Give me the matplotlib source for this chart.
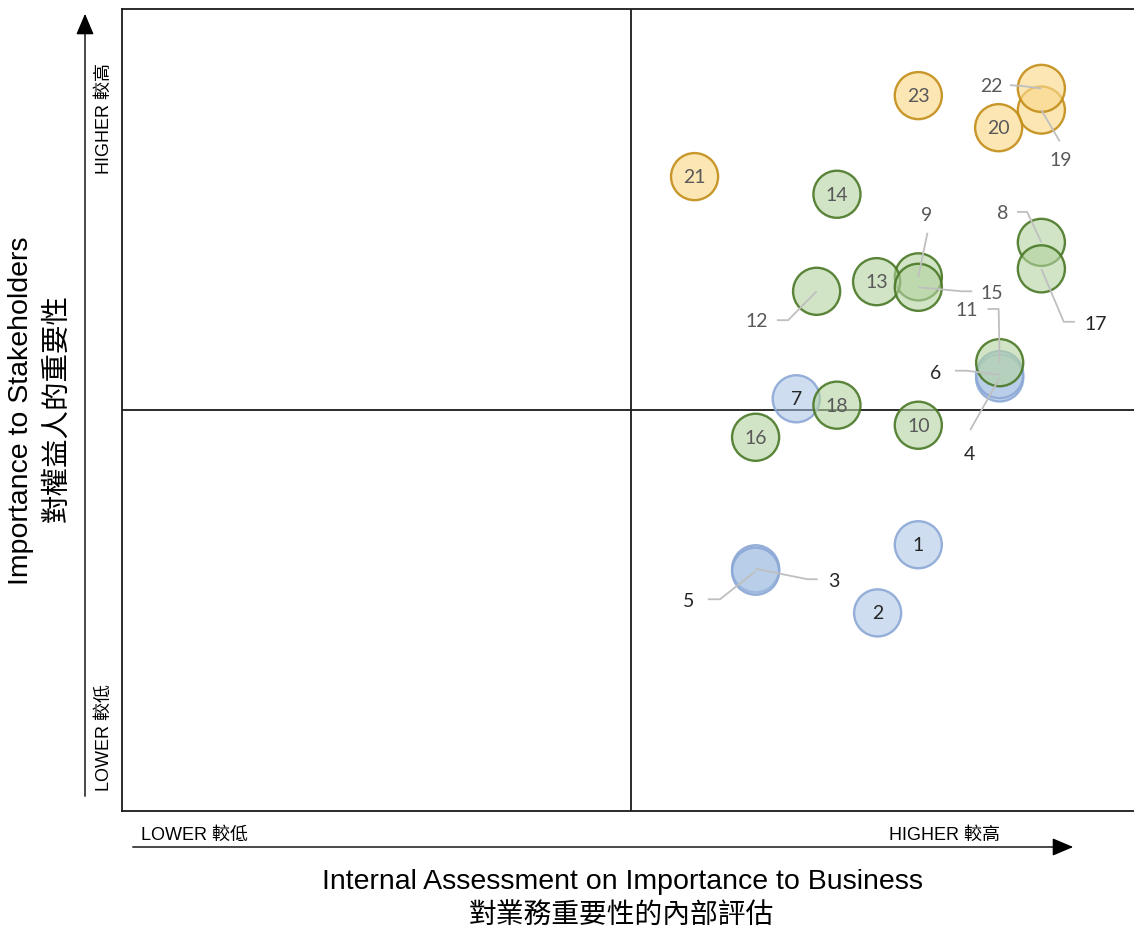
import matplotlib.pyplot as plt

plt.rcParams['font.family'] = ['Liberation Sans', 'Noto Sans CJK TC']

# --- datos: tema, posición (negocio, partes interesadas), grupo ---
ids = list(range(1, 24))
negocio = [7.83, 7.43, 6.23, 8.63, 6.23, 8.63, 6.63, 9.04, 7.83, 7.83, 8.63, 6.83,
           7.42, 7.03, 7.83, 6.23, 9.04, 7.03, 9.04, 8.62, 5.63, 9.04, 7.83]
stake = [3.32, 2.47, 3.02, 5.40, 2.99, 5.44, 5.14, 7.09, 6.66, 4.81, 5.59, 6.48,
         6.60, 7.69, 6.53, 4.66, 6.76, 5.06, 8.74, 8.52, 7.91, 9.01, 8.92]
grupo = ['azul'] * 7 + ['verde'] * 11 + ['amarillo'] * 5

# etiquetas dentro de la burbuja
internas = [1, 2, 7, 10, 13, 14, 16, 18, 20, 21, 23]

# etiquetas externas: texto (x, y), inicio de la línea guía (x, y), codo (x, y)
externas = [22, 19, 9, 15, 11, 8, 17, 12, 6, 4, 3, 5]
txt_x = [8.545, 9.23, 7.91, 8.55, 8.31, 8.66, 9.57, 6.24, 8.00, 8.33, 7.00, 5.57]
txt_y = [9.05, 8.12, 7.44, 6.46, 6.25, 7.46, 6.08, 6.12, 5.47, 4.46, 2.88, 2.63]
ini_x = [8.73, 9.22, 7.92, 8.36, 8.51, 8.80, 9.37, 6.44, 8.19, 8.34, 6.84, 5.76]
ini_y = [9.05, 8.35, 7.21, 6.48, 6.26, 7.47, 6.10, 6.12, 5.49, 4.75, 2.89, 2.64]
codo_x = [8.85, 9.22, 7.92, 8.26, 8.62, 8.90, 9.26, 6.55, 8.30, 8.34, 6.74, 5.88]
codo_y = [9.04, 8.35, 7.21, 6.48, 6.26, 7.47, 6.10, 6.12, 5.49, 4.75, 2.89, 2.64]

COLORES = {
    'azul':     {'face': '#A7C2E4', 'edge': '#8CA8D6', 'alpha': 0.55, 'txt': '#262626'},
    'verde':    {'face': '#B3D3A0', 'edge': '#4A7826', 'alpha': 0.6,  'txt': '#595959'},
    'amarillo': {'face': '#FAD98C', 'edge': '#C38D17', 'alpha': 0.65, 'txt': '#595959'},
}
TXT_EXT = {22: '#595959', 19: '#595959', 9: '#595959', 15: '#595959', 11: '#595959',
           8: '#595959', 12: '#595959', 17: '#262626', 6: '#262626', 4: '#262626',
           3: '#262626', 5: '#262626'}

fig = plt.figure(figsize=(11.34, 9.28), dpi=100)
ax = fig.add_axes([122 / 1134, 116 / 928, 1017 / 1134, 802 / 928])
ax.set_xlim(0, 10)
ax.set_ylim(0, 10)
ax.set_xticks([])
ax.set_yticks([])
for s in ax.spines.values():
    s.set_linewidth(1.3)
    s.set_color('#1a1a1a')

ax.axvline(5, color='#1a1a1a', lw=1.3, zorder=1)
ax.axhline(5, color='#1a1a1a', lw=1.3, zorder=1)

# burbujas
for i, x, y, g in zip(ids, negocio, stake, grupo):
    c = COLORES[g]
    ax.scatter([x], [y], s=1150, facecolor=c['face'], alpha=c['alpha'],
               edgecolor='none', zorder=2 + i * 0.01)
    ax.scatter([x], [y], s=1150, facecolor='none', edgecolor=c['edge'],
               linewidth=1.7, alpha=0.9, zorder=2 + i * 0.01)
    if i in internas:
        ax.text(x, y, str(i), ha='center', va='center', fontsize=14,
                family='Lato', color=c['txt'], zorder=5)

# líneas guía y etiquetas externas
for k, i in enumerate(externas):
    x, y = negocio[i - 1], stake[i - 1]
    ax.plot([ini_x[k], codo_x[k], x], [ini_y[k], codo_y[k], y],
            color='#BFBFBF', lw=1.3, zorder=4, solid_capstyle='butt')
    ax.text(txt_x[k], txt_y[k], str(i), ha='center', va='center', fontsize=14,
            family='Lato', color=TXT_EXT[i], zorder=5)

# capa en píxeles para flechas y títulos
ax_y = fig.add_axes([0, 0, 1, 1], facecolor='none')
ax_y.set_xlim(0, 1134)
ax_y.set_ylim(928, 0)
ax_y.axis('off')
ax_y.annotate('', xy=(85, 12), xytext=(85, 800),
              arrowprops=dict(arrowstyle='-|>,head_length=1.3,head_width=0.55',
                              color='black', lw=1.0))
ax_y.annotate('', xy=(1076, 848), xytext=(130, 848),
              arrowprops=dict(arrowstyle='-|>,head_length=1.3,head_width=0.55',
                              color='black', lw=1.0))

# textos de ejes
ax_y.text(104, 118, 'HIGHER 較高', rotation=90, ha='center', va='center', fontsize=13)
ax_y.text(104, 738, 'LOWER 較低', rotation=90, ha='center', va='center', fontsize=13)
ax_y.text(141, 835, 'LOWER 較低', ha='left', va='center', fontsize=13)
ax_y.text(1000, 835, 'HIGHER 較高', ha='right', va='center', fontsize=13)

ax_y.text(21, 411, 'Importance to Stakeholders', rotation=90, ha='center',
          va='center', fontsize=20.5)
ax_y.text(57, 408, '對權益人的重要性', rotation=90, ha='center', va='center', fontsize=20.5)
ax_y.text(622, 889, 'Internal Assessment on Importance to Business', ha='center',
          va='baseline', fontsize=20.5)
ax_y.text(621, 923, '對業務重要性的內部評估', ha='center', va='baseline', fontsize=20)

fig.savefig('out.png', dpi=100)
